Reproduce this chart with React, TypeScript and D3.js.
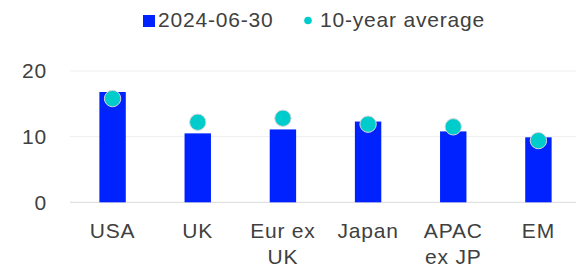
import * as d3 from "d3";

const regions = ["USA", "UK", "Eur ex\nUK", "Japan", "APAC\nex JP", "EM"];
const current = [16.8, 10.5, 11.1, 12.3, 10.8, 9.9];
const tenYearAvg = [15.8, 12.2, 12.8, 11.9, 11.5, 9.4];
const yTicks = [0, 10, 20];

const W = 576;
const H = 269;
const FONT = "'Liberation Sans', Arial, sans-serif";
const TEXT = "#404040";
const FS = 21;
const LS = 0.8; // the export renders text a little wide

export default function App() {
  const x = d3.scaleBand<string>().domain(regions).range([70, 581]).paddingInner(0.69).paddingOuter(0.345);
  const y = d3.scaleLinear().domain([0, 20]).range([202.3, 71]);

  return (
    <svg
      width={W}
      height={H}
      style={{position: "absolute", left: 0, top: 0, fontFamily: FONT}}
    >
      {/* legend */}
      <rect x={143} y={15} width={12} height={12} fill="#0022ff" />
      <text x={158} y={27} fontSize={FS} letterSpacing={LS} fill={TEXT}>2024-06-30</text>
      <circle cx={308} cy={20.5} r={3.8} fill="#00cccc" />
      <text x={320} y={27} fontSize={FS} letterSpacing={LS} fill={TEXT}>10-year average</text>

      {/* grid */}
      {yTicks.map((t) => (
        <g key={t}>
          <line
            x1={70}
            x2={W}
            y1={y(t)}
            y2={y(t)}
            stroke={t === 0 ? "#d9d9d9" : "#eeeeee"}
            strokeWidth={1}
          />
          <text x={47} y={y(t)} dy="0.35em" textAnchor="end" fontSize={FS} letterSpacing={LS} fill={TEXT}>
            {t}
          </text>
        </g>
      ))}

      {/* bars */}
      {regions.map((r, i) => (
        <rect
          key={r}
          x={x(r)}
          y={y(current[i])}
          width={x.bandwidth()}
          height={y(0) - y(current[i])}
          fill="#0022ff"
        />
      ))}

      {/* average dots */}
      {regions.map((r, i) => (
        <circle
          key={r}
          cx={(x(r) ?? 0) + x.bandwidth() / 2}
          cy={y(tenYearAvg[i])}
          r={8.2}
          fill="#00cccc"
          stroke="#d9d9d9"
          strokeWidth={1}
        />
      ))}

      {/* x labels */}
      {regions.map((r) => (
        <text
          key={r}
          x={(x(r) ?? 0) + x.bandwidth() / 2}
          y={238}
          textAnchor="middle"
          fontSize={FS}
          letterSpacing={LS}
          fill={TEXT}
        >
          {r.split("\n").map((line, j) => (
            <tspan key={j} x={(x(r) ?? 0) + x.bandwidth() / 2} dy={j === 0 ? 0 : 26}>
              {line}
            </tspan>
          ))}
        </text>
      ))}
    </svg>
  );
}
